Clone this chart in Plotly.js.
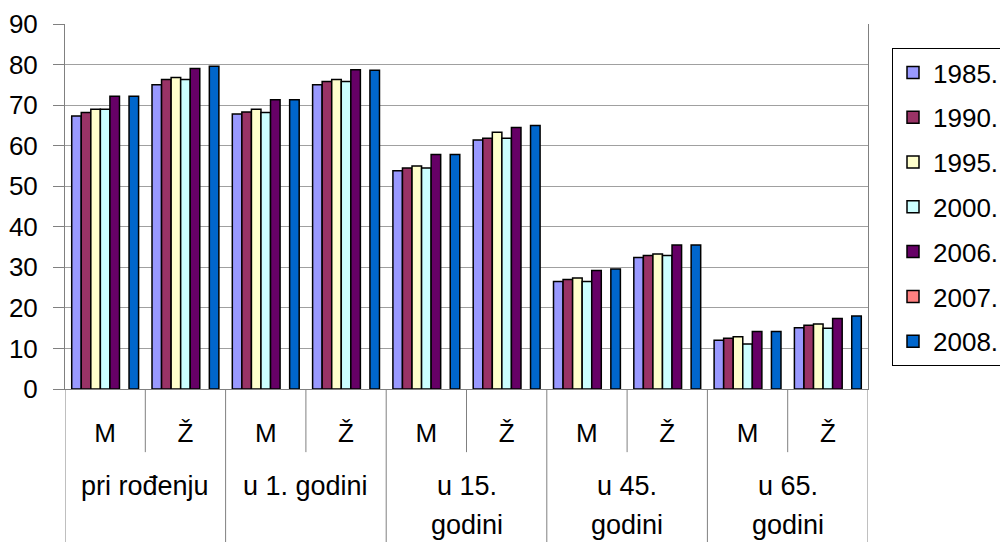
<!DOCTYPE html>
<html>
<head>
<meta charset="utf-8">
<script src="https://cdn.plot.ly/plotly-3.0.1.min.js"></script>
<style>html,body{margin:0;padding:0;background:#fff;}#chart{width:1000px;height:542px;}</style>
</head>
<body>
<div id="chart"></div>
<script>
// Categories (10 bar groups): outer age category x inner sex
const categoryIds = ["pri rođenju M","pri rođenju Ž","u 1. godini M","u 1. godini Ž","u 15. godini M","u 15. godini Ž","u 45. godini M","u 45. godini Ž","u 65. godini M","u 65. godini Ž"];
const innerLabels = ["M","Ž","M","Ž","M","Ž","M","Ž","M","Ž"];
const outerLine1 = ["pri rođenju","u 1. godini","u 15.","u 45.","u 65."];
const outerLine2 = ["","","godini","godini","godini"];

const seriesNames = ["1985.","1990.","1995.","2000.","2006.","2007.","2008."];
const seriesColors = ["#9999FF","#993366","#FFFFCC","#CCFFFF","#660066","#FF8080","#0066CC"];

const v1985 = [67.3, 75.0, 67.8, 75.0, 53.8, 61.4, 26.5, 32.4, 12.0, 15.1];
const v1990 = [68.2, 76.3, 68.3, 75.8, 54.5, 61.8, 27.0, 32.9, 12.5, 15.7];
const v1995 = [69.0, 76.8, 69.0, 76.3, 55.0, 63.3, 27.4, 33.3, 12.9, 16.0];
const v2000 = [69.0, 76.3, 68.2, 75.8, 54.5, 61.8, 26.5, 32.9, 11.1, 15.0];
const v2006 = [72.2, 79.0, 71.3, 78.7, 57.8, 64.5, 29.2, 35.5, 14.2, 17.4];
const v2007 = [null, null, null, null, null, null, null, null, null, null];
const v2008 = [72.2, 79.6, 71.3, 78.6, 57.8, 65.0, 29.6, 35.5, 14.2, 18.0];
const seriesValues = [v1985, v1990, v1995, v2000, v2006, v2007, v2008];

const yTicks = [0,10,20,30,40,50,60,70,80,90];

const FONT = "'Liberation Sans', Arial, sans-serif";
const FS = 26;

const traces = seriesNames.map((name, i) => ({
  type: 'bar',
  name: name,
  x: categoryIds,
  y: seriesValues[i],
  legendgroup: 'g' + i,
  marker: {color: seriesColors[i], line: {color: '#000000', width: 1.5}},
  hoverinfo: 'x+y+name'
}));

// Divider shapes below axis
const shapes = [];
const nCat = categoryIds.length;
for (let k = 0; k <= nCat; k++) {
  const xpos = k - 0.5;
  const isOuter = (k % 2 === 0);
  shapes.push({
    type: 'line', xref: 'x', yref: 'paper',
    x0: xpos, x1: xpos, y0: 0, y1: isOuter ? -0.43 : -0.173,
    line: {color: '#808080', width: 1}
  });
}

const annotations = [];
outerLine1.forEach((t, j) => {
  annotations.push({
    xref: 'x', yref: 'paper', x: 2 * j + 0.5, y: -0.266,
    text: t, showarrow: false, xanchor: 'center', yanchor: 'middle',
    font: {family: FONT, size: 27, color: '#000'}
  });
  if (outerLine2[j]) {
    annotations.push({
      xref: 'x', yref: 'paper', x: 2 * j + 0.5, y: -0.373,
      text: outerLine2[j], showarrow: false, xanchor: 'center', yanchor: 'middle',
      font: {family: FONT, size: 27, color: '#000'}
    });
  }
});

const layout = {
  width: 1000, height: 542,
  margin: {l: 65, r: 132, t: 24, b: 153},
  paper_bgcolor: '#ffffff',
  plot_bgcolor: '#ffffff',
  font: {family: FONT, size: FS, color: '#000'},
  barmode: 'group',
  bargap: 0.167,
  bargroupgap: 0,
  showlegend: true,
  legend: {
    xref: 'container', yref: 'container',
    x: 0.892, y: 0.9114, xanchor: 'left', yanchor: 'top',
    maxheight: 420,
    bordercolor: '#000000', borderwidth: 1,
    font: {family: FONT, size: FS, color: '#000'},
    traceorder: 'grouped', tracegroupgap: 8,
    bgcolor: '#ffffff'
  },
  xaxis: {
    type: 'category',
    tickmode: 'array', tickvals: categoryIds, ticktext: innerLabels,
    ticks: '', showgrid: false,
    showline: true, linecolor: '#808080', linewidth: 1,
    tickfont: {family: FONT, size: FS, color: '#000'},
    ticklabelstandoff: 21,
    range: [-0.5, nCat - 0.5],
    zeroline: false
  },
  yaxis: {
    range: [0, 90],
    tickmode: 'array', tickvals: yTicks,
    ticks: 'outside', ticklen: 11, tickcolor: '#808080',
    showgrid: true, gridcolor: '#a0a0a0', gridwidth: 1,
    showline: true, mirror: true, linecolor: '#808080', linewidth: 1,
    tickfont: {family: FONT, size: FS, color: '#000'},
    ticklabelstandoff: 10,
    zeroline: false
  },
  shapes: shapes,
  annotations: annotations
};

Plotly.newPlot('chart', traces, layout, {displayModeBar: false, staticPlot: true});
</script>
</body>
</html>
